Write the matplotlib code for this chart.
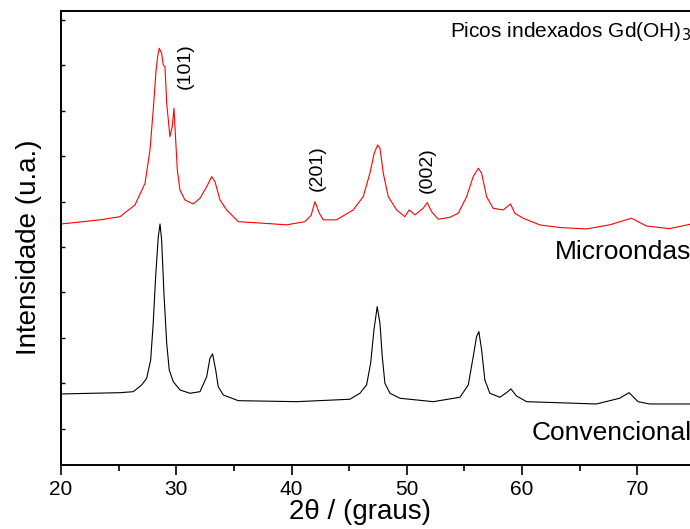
import matplotlib
matplotlib.use("Agg")
import numpy as np
from matplotlib import pyplot as plt
from matplotlib.ticker import MultipleLocator

plt.rcParams['font.family'] = ['Liberation Sans', 'DejaVu Sans']

# Convencional (black)
conv_2theta = [20.0, 25.12, 26.27, 27.0, 27.43, 27.78, 28.0, 28.21, 28.44, 28.59,
               28.73, 28.93, 29.17, 29.39, 29.74, 30.32, 31.19, 32.06, 32.64, 32.92,
               33.15, 33.42, 33.64, 34.08, 35.38, 40.44, 45.06, 45.93, 46.51, 46.86,
               47.15, 47.43, 47.67, 47.87, 48.1, 48.54, 49.4, 52.29, 54.61, 55.33,
               55.76, 56.05, 56.25, 56.49, 56.77, 57.2, 58.07, 58.65, 59.03, 59.52,
               60.39, 66.44, 68.46, 69.28, 70.06, 71.07, 75.0]
conv_int = [765, 793, 815, 963, 1110, 1513, 2322, 3349, 4230, 4510,
            4157, 2983, 1881, 1293, 1035, 853, 780, 815, 1146, 1551,
            1646, 1293, 925, 742, 617, 595, 648, 780, 963, 1440,
            2174, 2688, 2322, 1586, 1000, 780, 670, 595, 692, 963,
            1586, 2027, 2137, 1734, 1073, 780, 692, 793, 875, 720,
            595, 544, 670, 793, 595, 544, 544]

# Microondas (red)
micro_2theta = [20.0, 23.4, 25.12, 26.42, 27.29, 27.72, 28.0, 28.24, 28.38, 28.52,
                28.73, 28.87, 29.02, 29.17, 29.45, 29.65, 29.8, 29.95, 30.09, 30.32,
                30.75, 31.47, 32.06, 32.64, 33.07, 33.36, 33.79, 34.37, 35.38, 37.55,
                39.57, 41.16, 41.7, 42.03, 42.4, 42.75, 43.9, 45.35, 46.22, 46.8,
                47.17, 47.47, 47.67, 47.96, 48.39, 49.12, 49.83, 50.21, 50.7, 51.42,
                51.77, 52.15, 52.72, 53.74, 54.46, 55.19, 55.76, 56.2, 56.49, 56.92,
                57.49, 58.36, 59.0, 59.37, 60.1, 61.54, 63.28, 65.6, 67.6, 69.49,
                70.79, 72.8, 75.0]
micro_int = [4509, 4600, 4670, 4928, 5406, 6140, 7021, 7865, 8195, 8380,
             8270, 8012, 7975, 7168, 6433, 6653, 7058, 6360, 5700, 5258,
             5038, 4950, 5076, 5331, 5552, 5441, 5038, 4818, 4560, 4525,
             4490, 4560, 4700, 5000, 4750, 4600, 4600, 4818, 5111, 5626,
             6067, 6250, 6177, 5626, 5111, 4818, 4670, 4818, 4708, 4855,
             4979, 4781, 4613, 4657, 4745, 5111, 5552, 5737, 5626, 5111,
             4855, 4818, 4950, 4745, 4635, 4488, 4430, 4400, 4490, 4635,
             4465, 4406, 4525]

peak_labels = ['(101)', '(201)', '(002)']
peak_pos = [30.8, 42.2, 51.8]
peak_y = [7990, 5740, 5690]

fig = plt.figure(figsize=(6.9, 5.29), dpi=100)
ax = fig.add_axes([61 / 690, 64 / 529, 634 / 690, 454 / 529])

ax.plot(conv_2theta, conv_int, color='black', lw=0.8)
ax.plot(micro_2theta, micro_int, color='red', lw=0.8)

ax.set_xlim(20, 75)
ax.set_ylim(-800, 9200)
ax.xaxis.set_major_locator(MultipleLocator(10))
ax.xaxis.set_minor_locator(MultipleLocator(5))
ax.yaxis.set_major_locator(MultipleLocator(1000))
ax.tick_params(axis='x', which='major', direction='out', length=7, width=1.2,
               labelsize=15, pad=4)
ax.tick_params(axis='x', which='minor', direction='out', length=4, width=1.2)
ax.tick_params(axis='y', which='major', direction='in', length=3, width=1.0,
               labelleft=False)
for side in ['left', 'bottom', 'top']:
    ax.spines[side].set_linewidth(1.4)
ax.spines['right'].set_visible(False)

ax.set_xlabel(u'2\u03b8 / (graus)', fontsize=20)
ax.xaxis.set_label_coords(0.472, -0.075)
ax.set_ylabel('Intensidade (u.a.)', fontsize=20)
ax.yaxis.set_label_coords(-0.03, 0.48)

for label, x, y in zip(peak_labels, peak_pos, peak_y):
    ax.text(x, y, label, rotation=90, ha='center', va='center', fontsize=14)

ax.text(0.9945, 0.955, r'Picos indexados Gd(OH)$_3$', transform=ax.transAxes,
        ha='right', va='center', fontsize=15)
ax.text(0.9945, 0.47, 'Microondas', transform=ax.transAxes,
        ha='right', va='center', fontsize=19)
ax.text(0.9945, 0.07, 'Convencional', transform=ax.transAxes,
        ha='right', va='center', fontsize=19)

fig.savefig('out.png', dpi=100)
